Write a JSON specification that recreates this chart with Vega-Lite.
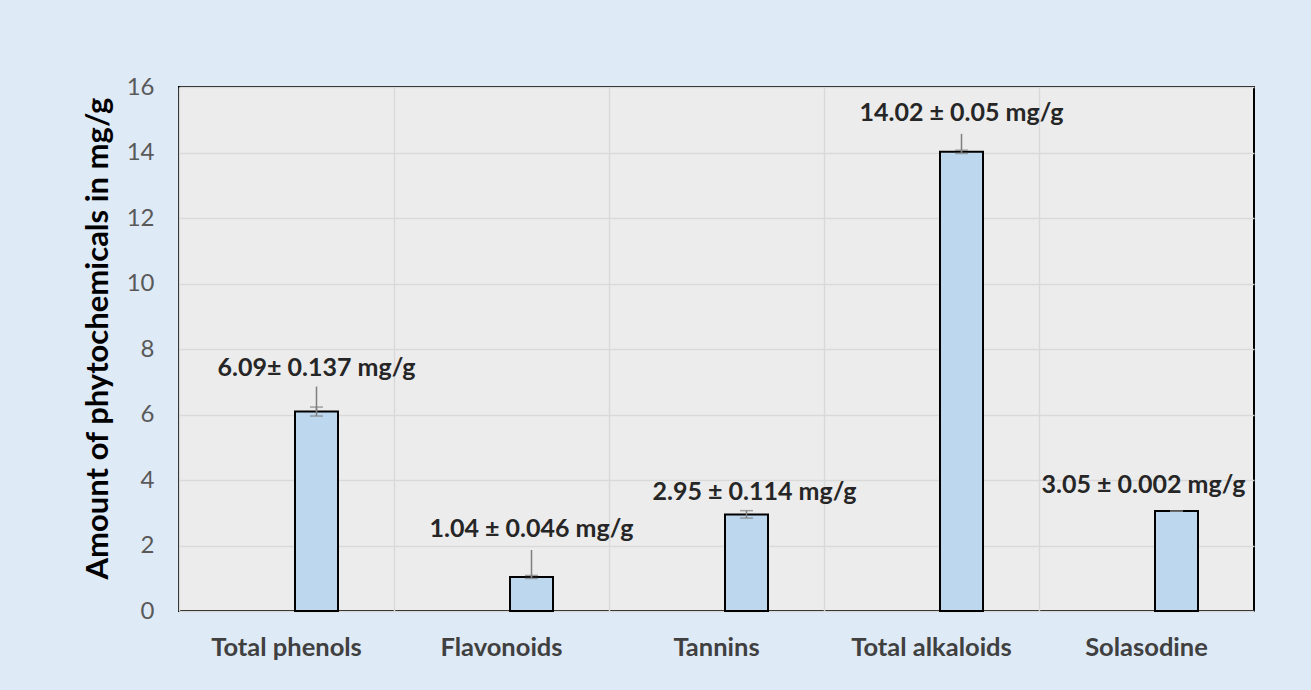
{
  "$schema": "https://vega.github.io/schema/vega-lite/v6.json",
  "width": 1075,
  "height": 524,
  "autosize": {"type": "none"},
  "padding": {"left": 179, "top": 87, "right": 57, "bottom": 79},
  "background": "#DEEAF6",
  "config": {
    "font": "Lato",
    "view": {"fill": "#ECECEC", "stroke": "#000000", "strokeWidth": 2}
  },
  "data": {
    "values": [
      {"compound": "Total phenols", "value": 6.09, "sd": 0.137, "label": "6.09± 0.137 mg/g"},
      {"compound": "Flavonoids", "value": 1.04, "sd": 0.046, "label": "1.04  ± 0.046 mg/g"},
      {"compound": "Tannins", "value": 2.95, "sd": 0.114, "label": "2.95 ± 0.114 mg/g"},
      {"compound": "Total alkaloids", "value": 14.02, "sd": 0.05, "label": "14.02 ± 0.05 mg/g"},
      {"compound": "Solasodine", "value": 3.05, "sd": 0.002, "label": "3.05 ± 0.002 mg/g"}
    ]
  },
  "encoding": {
    "x": {
      "field": "compound",
      "type": "nominal",
      "sort": null,
      "scale": {"paddingInner": 0, "paddingOuter": 0},
      "axis": {
        "title": null,
        "labelAngle": 0,
        "labelFont": "Lato",
        "labelFontSize": 25.5,
        "labelFontWeight": "bold",
        "labelColor": "#404040",
        "labelPadding": 24,
        "ticks": false,
        "tickSize": 0,
        "domain": false,
        "grid": true,
        "gridColor": "#D9D9D9",
        "gridWidth": 1.5,
        "bandPosition": 0
      }
    },
    "y": {
      "field": "value",
      "type": "quantitative",
      "scale": {"domain": [0, 16], "nice": false},
      "axis": {
        "title": "Amount of phytochemicals in mg/g",
        "titleFont": "Lato",
        "titleFontSize": 31,
        "titleFontWeight": "bold",
        "titleColor": "#000000",
        "titlePadding": 12,
        "titleY": 251,
        "values": [0, 2, 4, 6, 8, 10, 12, 14, 16],
        "labelFont": "Lato",
        "labelFontSize": 24,
        "labelColor": "#595959",
        "labelPadding": 25,
        "labelFlush": false,
        "ticks": false,
        "tickSize": 0,
        "domain": false,
        "grid": true,
        "gridColor": "#D9D9D9",
        "gridWidth": 1.5
      }
    }
  },
  "layer": [
    {
      "mark": {"type": "bar", "width": 43, "xOffset": 30, "fill": "#BDD7EE", "stroke": "#000000", "strokeWidth": 2}
    },
    {
      "mark": {"type": "errorbar", "color": "#7F7F7F", "xOffset": 30, "ticks": {"size": 13, "xOffset": 30, "color": "#7F7F7F"}, "rule": {"xOffset": 30, "color": "#7F7F7F"}, "thickness": 1.5},
      "encoding": {"yError": {"field": "sd"}}
    },
    {
      "transform": [{"filter": {"field": "compound", "equal": "Total phenols"}}],
      "mark": {"type": "rule", "xOffset": 30, "y2Offset": -25, "color": "#7F7F7F", "strokeWidth": 1.5},
      "encoding": {"y2": {"field": "value"}}
    },
    {
      "transform": [{"filter": {"field": "compound", "equal": "Flavonoids"}}],
      "mark": {"type": "rule", "xOffset": 30, "y2Offset": -27, "color": "#7F7F7F", "strokeWidth": 1.5},
      "encoding": {"y2": {"field": "value"}}
    },
    {
      "transform": [{"filter": {"field": "compound", "equal": "Total alkaloids"}}],
      "mark": {"type": "rule", "xOffset": 30, "y2Offset": -18, "color": "#7F7F7F", "strokeWidth": 1.5},
      "encoding": {"y2": {"field": "value"}}
    },
    {
      "transform": [{"filter": {"field": "compound", "equal": "Total phenols"}}],
      "mark": {"type": "text", "xOffset": 30, "dx": 0, "dy": -44, "font": "Lato", "fontSize": 25, "fontWeight": "bold", "color": "#262626"},
      "encoding": {"text": {"field": "label"}}
    },
    {
      "transform": [{"filter": {"field": "compound", "equal": "Flavonoids"}}],
      "mark": {"type": "text", "xOffset": 30, "dx": 0, "dy": -48, "font": "Lato", "fontSize": 25, "fontWeight": "bold", "color": "#262626"},
      "encoding": {"text": {"field": "label"}}
    },
    {
      "transform": [{"filter": {"field": "compound", "equal": "Tannins"}}],
      "mark": {"type": "text", "xOffset": 30, "dx": 8, "dy": -22, "font": "Lato", "fontSize": 25, "fontWeight": "bold", "color": "#262626"},
      "encoding": {"text": {"field": "label"}}
    },
    {
      "transform": [{"filter": {"field": "compound", "equal": "Total alkaloids"}}],
      "mark": {"type": "text", "xOffset": 30, "dx": 0, "dy": -39, "font": "Lato", "fontSize": 25, "fontWeight": "bold", "color": "#262626"},
      "encoding": {"text": {"field": "label"}}
    },
    {
      "transform": [{"filter": {"field": "compound", "equal": "Solasodine"}}],
      "mark": {"type": "text", "xOffset": 30, "dx": -33, "dy": -26, "font": "Lato", "fontSize": 25, "fontWeight": "bold", "color": "#262626"},
      "encoding": {"text": {"field": "label"}}
    }
  ]
}
